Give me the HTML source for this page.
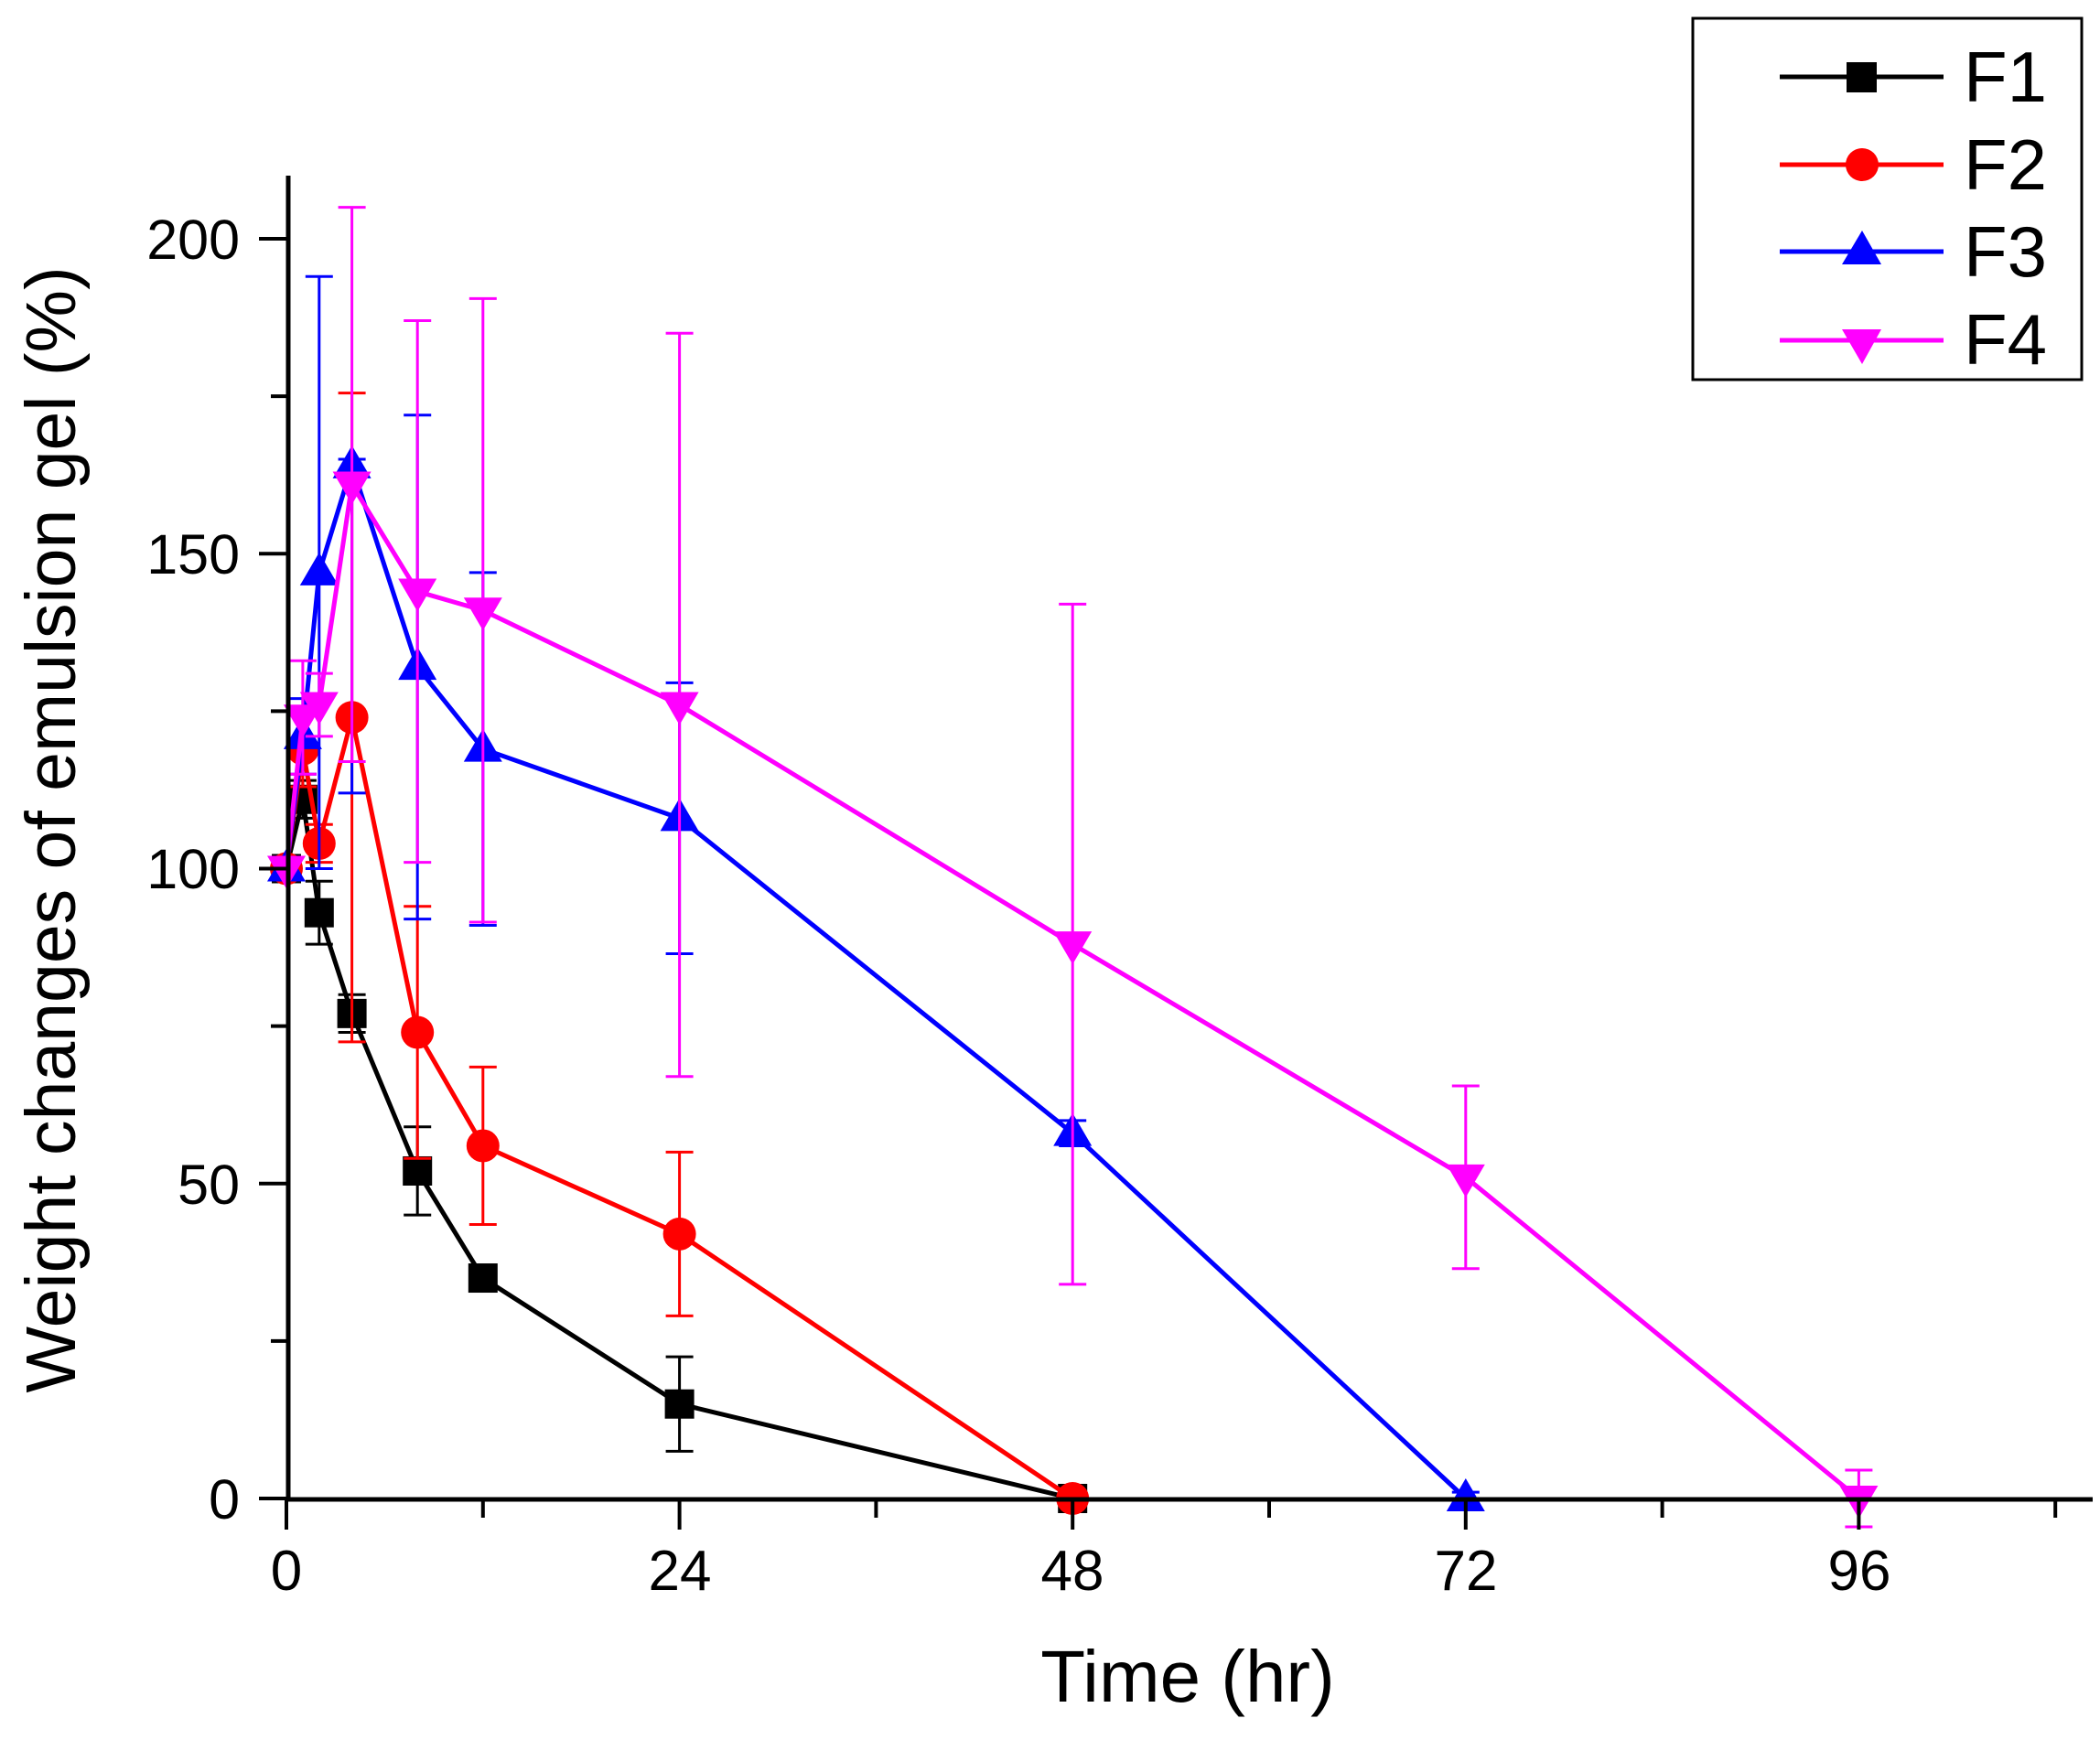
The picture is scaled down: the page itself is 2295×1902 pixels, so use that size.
<!DOCTYPE html>
<html><head><meta charset="utf-8"><style>
html,body{margin:0;padding:0;background:#fff;}
svg{display:block;font-family:"Liberation Sans",Arial,sans-serif;}
</style></head><body>
<svg id="s" width="2295" height="1902" viewBox="0 0 2295 1902" xmlns="http://www.w3.org/2000/svg">
<rect width="2295" height="1902" fill="#fff"/>
<g id="data"></g>
<g stroke="#000" stroke-width="5" fill="none">
<line x1="315" y1="192" x2="315" y2="1641"/>
<line x1="313" y1="1639" x2="2287" y2="1639"/>
</g>
<g id="ticks" stroke="#000" stroke-width="4"></g>
<g font-size="61" text-anchor="end" fill="#000">
<text x="262" y="283">200</text>
<text x="262" y="627">150</text>
<text x="262" y="971">100</text>
<text x="262" y="1316">50</text>
<text x="262" y="1660">0</text>
</g>
<g font-size="62" text-anchor="middle" fill="#000">
<text x="313" y="1738">0</text>
<text x="743" y="1738">24</text>
<text x="1172" y="1738">48</text>
<text x="1602" y="1738">72</text>
<text x="2032" y="1738">96</text>
</g>
<text x="1298" y="1860" font-size="80" text-anchor="middle">Time (hr)</text>
<text transform="translate(82,907) rotate(-90)" font-size="77" text-anchor="middle">Weight changes of emulsion gel (%)</text>
<rect x="1850" y="20" width="425" height="395" fill="#fff" stroke="#000" stroke-width="3"/>
<g stroke-width="5">
<line x1="1945" y1="84" x2="2124" y2="84" stroke="#000"/>
<rect x="2018" y="68" width="33" height="33" fill="#000"/>
<line x1="1945" y1="180" x2="2124" y2="180" stroke="#f00"/>
<circle cx="2035" cy="180" r="18" fill="#f00"/>
<line x1="1945" y1="275" x2="2124" y2="275" stroke="#00f"/>
<polygon points="2035,252 2056,289 2013,289" fill="#00f"/>
<line x1="1945" y1="372" x2="2124" y2="372" stroke="#f0f"/>
<polygon points="2013,360 2056,360 2035,398" fill="#f0f"/>
</g>
<g font-size="78" fill="#000">
<text x="2146" y="111">F1</text>
<text x="2146" y="207">F2</text>
<text x="2146" y="302">F3</text>
<text x="2146" y="398">F4</text>
</g>
</svg>
<script>
var NS="http://www.w3.org/2000/svg";
function X(t){return 313+t*17.9;}
function Y(v){return 1638-v*6.885;}
function el(p,n,a){var e=document.createElementNS(NS,n);for(var k in a)e.setAttribute(k,a[k]);p.appendChild(e);return e;}
var tk=document.getElementById("ticks");
for(var t=0;t<=108;t+=12){var maj=(t%24==0);el(tk,"line",{x1:X(t),y1:1639,x2:X(t),y2:maj?1672:1659});}
for(var v=0;v<=200;v+=25){var maj=(v%50==0);el(tk,"line",{x1:maj?283:296,y1:Y(v),x2:315,y2:Y(v)});}
var S=[
{c:"#000",m:"sq",d:[[0,100,0],[1,111,3],[2,93,5],[4,77,3],[8,52,7],[12,35,2],[24,15,7.5],[48,0,2]]},
{c:"#f00",m:"ci",d:[[0,100,0],[1,119,6],[2,104,3],[4,124,51.5],[8,74,20],[12,56,12.5],[24,42,13],[48,0,1]]},
{c:"#00f",m:"up",d:[[0,100,0],[1,121,6],[2,147,47],[4,164,1,52],[8,132,40],[12,119,28],[24,108,21.5],[48,58,2],[72,0,1]]},
{c:"#f0f",m:"dn",d:[[0,100,0],[1,124,9],[2,126,5],[4,161,44],[8,144,43],[12,141,49.5],[24,126,59],[48,88,54],[72,51,14.5],[96,0,4.5]]}
];
var g=document.getElementById("data");
S.forEach(function(s){
  s.d.forEach(function(p){ if(p[2]>0){var x=X(p[0]);var up=p[2],dn=(p.length>3?p[3]:p[2]);
    el(g,"line",{x1:x,y1:Y(p[1]+up),x2:x,y2:Y(p[1]-dn),stroke:s.c,"stroke-width":3});
    el(g,"line",{x1:x-15,y1:Y(p[1]+up),x2:x+15,y2:Y(p[1]+up),stroke:s.c,"stroke-width":3});
    el(g,"line",{x1:x-15,y1:Y(p[1]-dn),x2:x+15,y2:Y(p[1]-dn),stroke:s.c,"stroke-width":3});}});
  el(g,"polyline",{points:s.d.map(function(p){return X(p[0])+","+Y(p[1]);}).join(" "),fill:"none",stroke:s.c,"stroke-width":5});
  s.d.forEach(function(p){var x=X(p[0]),y=Y(p[1]);
    if(s.m=="sq")el(g,"rect",{x:x-16,y:y-16,width:32,height:32,fill:s.c});
    else if(s.m=="ci")el(g,"circle",{cx:x,cy:y,r:18,fill:s.c});
    else if(s.m=="up")el(g,"polygon",{points:(x)+","+(y-22)+" "+(x+21)+","+(y+14)+" "+(x-21)+","+(y+14),fill:s.c});
    else el(g,"polygon",{points:(x-21)+","+(y-14)+" "+(x+21)+","+(y-14)+" "+(x)+","+(y+22),fill:s.c});
  });
});
</script>
</body></html>
